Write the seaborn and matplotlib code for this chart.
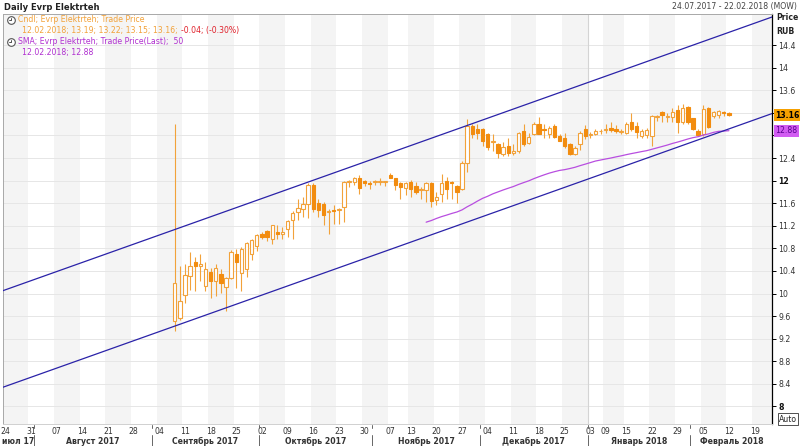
import numpy as np
import pandas as pd
import matplotlib
matplotlib.use('Agg')
import matplotlib.pyplot as plt
import matplotlib.transforms as mtransforms
from matplotlib.lines import Line2D
import seaborn as sns

# daily candles 07.09.2017 - 12.02.2018 (Evrp Elektrteh, RUB)
candle_start = '2017-09-07'
opens = [9.51, 9.57, 9.98, 10.31, 10.55, 10.49, 10.13, 10.39, 10.22, 10.34,
         10.12, 10.28, 10.70, 10.37, 10.43, 10.70, 10.85, 11.06, 11.11, 10.97,
         11.09, 11.05, 11.15, 11.30, 11.45, 11.49, 11.59, 11.92, 11.61, 11.59,
         11.45, 11.47, 11.48, 11.53, 11.97, 11.97, 12.05, 11.99, 11.95, 11.97,
         11.97, 11.97, 12.10, 12.04, 11.95, 11.87, 11.97, 11.91, 11.83, 11.83,
         11.95, 11.65, 11.77, 11.99, 11.98, 11.91, 11.86, 12.31, 12.97, 12.91,
         12.91, 12.82, 12.69, 12.65, 12.47, 12.61, 12.49, 12.52, 12.88, 12.67,
         12.82, 13.01, 12.91, 12.83, 12.97, 12.79, 12.76, 12.65, 12.47, 12.64,
         12.91, 12.81, 12.82, 12.87, 12.90, 12.94, 12.91, 12.86, 12.85, 13.03,
         12.97, 12.79, 12.80, 12.79, 13.13, 13.22, 13.12, 13.13, 13.25, 13.03,
         13.31, 13.10, 12.88, 12.82, 13.29, 13.14, 13.17, 13.22, 13.19]
highs = [13.00, 10.49, 10.52, 10.74, 10.64, 10.70, 10.55, 10.46, 10.52, 10.43,
         10.30, 10.77, 10.79, 10.82, 10.91, 10.97, 11.06, 11.09, 11.13, 11.22,
         11.22, 11.18, 11.31, 11.46, 11.68, 11.71, 11.95, 11.95, 11.68, 11.62,
         11.49, 11.56, 11.51, 12.00, 12.01, 12.07, 12.10, 12.01, 11.99, 12.01,
         12.05, 11.99, 12.13, 12.05, 11.98, 11.98, 12.01, 11.98, 11.89, 11.98,
         11.98, 11.80, 12.11, 12.07, 11.99, 11.92, 12.34, 13.09, 13.00, 13.00,
         12.94, 12.85, 12.82, 12.67, 12.69, 12.75, 12.64, 12.86, 13.00, 12.85,
         13.04, 13.12, 13.00, 12.97, 13.00, 12.83, 12.85, 12.67, 12.61, 12.88,
         12.99, 12.86, 12.91, 12.91, 13.00, 13.03, 12.98, 12.91, 13.03, 13.20,
         13.03, 12.91, 12.94, 13.17, 13.16, 13.23, 13.20, 13.28, 13.34, 13.35,
         13.32, 13.10, 12.91, 13.34, 13.31, 13.23, 13.25, 13.23, 13.22]
lows = [9.33, 9.54, 9.84, 10.07, 10.04, 10.22, 10.04, 9.92, 9.95, 10.01,
        9.69, 10.25, 10.10, 10.04, 10.29, 10.60, 10.76, 10.97, 10.93, 10.88,
        10.97, 10.97, 11.00, 10.97, 11.30, 11.36, 11.33, 11.45, 11.36, 11.21,
        11.06, 11.24, 11.24, 11.27, 11.89, 11.92, 11.77, 11.91, 11.86, 11.92,
        11.92, 11.91, 12.04, 11.83, 11.68, 11.74, 11.71, 11.77, 11.68, 11.62,
        11.53, 11.56, 11.62, 11.68, 11.68, 11.61, 11.83, 12.16, 12.76, 12.73,
        12.61, 12.55, 12.52, 12.40, 12.43, 12.43, 12.46, 12.49, 12.61, 12.64,
        12.80, 12.82, 12.76, 12.76, 12.75, 12.70, 12.58, 12.46, 12.46, 12.55,
        12.73, 12.76, 12.80, 12.83, 12.85, 12.86, 12.85, 12.83, 12.82, 12.88,
        12.76, 12.76, 12.76, 12.61, 13.06, 13.03, 13.03, 13.03, 12.85, 13.00,
        13.00, 12.89, 12.79, 12.79, 12.94, 13.10, 13.10, 13.15, 13.15]
closes = [10.19, 9.87, 10.32, 10.49, 10.49, 10.53, 10.43, 10.22, 10.46, 10.19,
          10.28, 10.73, 10.55, 10.79, 10.89, 10.94, 11.03, 11.01, 11.00, 11.21,
          11.05, 11.09, 11.28, 11.42, 11.51, 11.58, 11.92, 11.49, 11.48, 11.39,
          11.46, 11.46, 11.49, 11.98, 11.99, 12.04, 11.87, 11.95, 11.94, 11.97,
          11.99, 11.97, 12.05, 11.92, 11.89, 11.95, 11.86, 11.79, 11.83, 11.95,
          11.64, 11.71, 11.95, 11.86, 11.95, 11.80, 12.31, 12.97, 12.83, 12.85,
          12.71, 12.59, 12.69, 12.49, 12.59, 12.49, 12.53, 12.85, 12.65, 12.77,
          13.00, 12.83, 12.90, 12.94, 12.77, 12.71, 12.61, 12.47, 12.58, 12.85,
          12.79, 12.82, 12.88, 12.88, 12.91, 12.89, 12.88, 12.86, 13.00, 12.91,
          12.86, 12.88, 12.89, 13.14, 13.13, 13.17, 13.12, 13.22, 13.03, 13.29,
          13.03, 12.91, 12.80, 13.26, 12.95, 13.22, 13.23, 13.20, 13.16]

sma_period = 50
holidays = ['2017-11-06', '2018-01-01', '2018-01-02', '2018-01-08']

# regression channel, values at the left and right edge of the chart
channel_x = [-0.5, 149.5]
channel_upper = [10.05, 14.90]
channel_lower = [8.34, 13.19]

y_ticks = [8.0, 8.4, 8.8, 9.2, 9.6, 10.0, 10.4, 10.8, 11.2, 11.6, 12.0,
           12.4, 12.8, 13.2, 13.6, 14.0, 14.4]
bold_ticks = [8.0, 12.0]
hidden_ticks = [12.8, 13.2]   # covered by the last-value boxes
month_names = ['июл 17', 'Август 2017', 'Сентябрь 2017', 'Октябрь 2017',
               'Ноябрь 2017', 'Декабрь 2017', 'Январь 2018', 'Февраль 2018']

ORANGE = '#f2a23a'
FILL = '#f28c0f'
BLUE = '#2a22a8'
PURPLE = '#b84ee0'

sns.set_theme(style='white')
plt.rcParams['font.family'] = ['DejaVu Sans']

# trading-day axis
dates = pd.bdate_range('2017-07-24', '2018-02-22')
dates = dates[~dates.isin(pd.to_datetime(holidays))]
pos = np.arange(len(dates))
first = dates.get_loc(pd.Timestamp(candle_start))
cx = pos[first:first + len(closes)]

fig = plt.figure(figsize=(8, 4.46), dpi=100)
ax = fig.add_axes([3 / 800, 1 - 424 / 446, 769 / 800, 410 / 446])
ax.set_xlim(-0.46, 149.4)
ax.set_ylim(7.69, 14.95)

# weekly background stripes
iso = dates.isocalendar()
weeks = pd.Series(pos, index=dates).groupby([iso.year.values, iso.week.values])
week_start = [g.iloc[0] for _, g in weeks]
week_end = [g.iloc[-1] for _, g in weeks]
for k, (s, e) in enumerate(zip(week_start, week_end)):
    if k % 2 == 0:
        ax.axvspan(s - 0.5, e + 0.5, color='#f4f4f4', lw=0, zorder=0)

# year separator
jan = dates.get_loc(pd.Timestamp('2018-01-03'))
ax.axvline(jan - 0.5, color='#d4d4d4', lw=0.8, zorder=0.6)

ax.set_yticks(y_ticks)
ax.yaxis.grid(True, color='#e6e6e6', lw=0.7)
ax.set_axisbelow(True)

# candles
o = np.array(opens)
c = np.array(closes)
up = c >= o
lo = np.minimum(o, c)
hgt = np.maximum(np.abs(c - o), 0.015)
ax.vlines(cx, lows, highs, color=ORANGE, lw=0.8, zorder=3)
ax.bar(cx[up], hgt[up], bottom=lo[up], width=0.66, color='white',
       edgecolor=ORANGE, linewidth=0.8, zorder=4)
ax.bar(cx[~up], hgt[~up], bottom=lo[~up], width=0.66, color=FILL,
       edgecolor=FILL, linewidth=0.8, zorder=4)

# SMA 50
sma = pd.Series(closes).rolling(sma_period).mean()
ok = sma.notna().values
sns.lineplot(x=cx[ok], y=sma.values[ok], color=PURPLE, lw=0.9, ax=ax, zorder=5)

# channel
sns.lineplot(x=channel_x, y=channel_upper, color=BLUE, lw=0.9, ax=ax, zorder=6)
sns.lineplot(x=channel_x, y=channel_lower, color=BLUE, lw=0.9, ax=ax, zorder=6)

# axes styling
ax.yaxis.tick_right()
ax.tick_params(axis='y', length=3, width=0.7, color='black', pad=1.5,
               labelsize=5.6, labelcolor='#333333', right=True)
ax.set_yticklabels(['' if v in hidden_ticks else '%g' % v for v in y_ticks])
for lab, v in zip(ax.get_yticklabels(), y_ticks):
    if v in bold_ticks:
        lab.set_fontweight('bold')
        lab.set_color('#111111')

ax.set_xticks(week_start)
ax.set_xticklabels([dates[i].strftime('%d') for i in week_start])
ax.tick_params(axis='x', length=0, pad=2.5, labelsize=5.6, labelcolor='#333333')

for side in ['left', 'top']:
    ax.spines[side].set_color('#a8a8a8')
    ax.spines[side].set_linewidth(0.7)
ax.spines['bottom'].set_color('#d0d0d0')
ax.spines['bottom'].set_linewidth(0.7)
ax.spines['right'].set_color('black')
ax.spines['right'].set_linewidth(0.9)
ax.set_xlabel('')
ax.set_ylabel('')

# month row
blend = mtransforms.blended_transform_factory(ax.transData, fig.transFigure)
months = pd.Series(pos, index=dates).groupby(dates.to_period('M'))
for name, (_, g) in zip(month_names, months):
    ax.text((g.iloc[0] + g.iloc[-1]) / 2, 1 - 441 / 446, name, transform=blend,
            ha='center', va='center', fontsize=5.6, fontweight='bold',
            color='#333333', clip_on=False)
    if g.iloc[0] > 0:
        b = g.iloc[0] - 0.5
        fig.add_artist(Line2D([b, b], [0, 1 - 435 / 446], transform=blend,
                              color='#666666', lw=0.7))
        fig.add_artist(Line2D([b, b], [1 - 425 / 446, 1 - 428 / 446],
                              transform=blend, color='#666666', lw=0.7))

# header texts
fig.text(4 / 800, 1 - 7 / 446, 'Daily Evrp Elektrteh', fontsize=6,
         fontweight='bold', color='#222222', va='center', ha='left')
fig.text(797 / 800, 1 - 6 / 446, '24.07.2017 - 22.02.2018 (MOW)',
         fontsize=5.6, color='#444444', va='center', ha='right')
fig.text(776 / 800, 1 - 18 / 446, 'Price', fontsize=5.6, fontweight='bold',
         color='#222222', va='center', ha='left')
fig.text(776 / 800, 1 - 32 / 446, 'RUB', fontsize=5.6, fontweight='bold',
         color='#222222', va='center', ha='left')

# legend inside the plot
for yy in [20, 42]:
    fy = 1 - yy / 446
    fig.add_artist(Line2D([11 / 800], [fy], marker='o', ms=5.5, mfc='white',
                          mec='#555555', mew=0.8, transform=fig.transFigure))
    fig.add_artist(Line2D([11 / 800, 11 / 800, 9 / 800], [fy + 2.2 / 446, fy, fy],
                          color='#333333', lw=0.6, transform=fig.transFigure))
fig.text(18 / 800, 1 - 20 / 446, 'Cndl; Evrp Elektrteh; Trade Price',
         fontsize=5.6, color=ORANGE, va='center')
t_ohlc = fig.text(22 / 800, 1 - 31 / 446, '12.02.2018; 13.19; 13.22; 13.15; 13.16;',
                  fontsize=5.6, color=ORANGE, va='center')
renderer = fig.canvas.get_renderer()
bb = t_ohlc.get_window_extent(renderer)
fig.text((bb.x1 + 3) / 800, 1 - 31 / 446, '-0.04; (-0.30%)', fontsize=5.6,
         color='#e0202a', va='center')
fig.text(18 / 800, 1 - 42 / 446, 'SMA; Evrp Elektrteh; Trade Price(Last);  50',
         fontsize=5.6, color='#b030d0', va='center')
fig.text(22 / 800, 1 - 53 / 446, '12.02.2018; 12.88', fontsize=5.6,
         color='#b030d0', va='center')

# last value boxes on the price axis
vblend = mtransforms.blended_transform_factory(ax.transAxes, ax.transData)
ax.text(1.004, closes[-1], '%.2f' % closes[-1], transform=vblend, fontsize=5.6,
        fontweight='bold', color='black', va='center', ha='left', clip_on=False,
        bbox=dict(boxstyle='square,pad=0.2', fc='#f5a000', ec='none'), zorder=10)
ax.text(1.004, sma.values[-1], '%.2f' % sma.values[-1], transform=vblend,
        fontsize=5.6, color='#5a0090', va='center', ha='left', clip_on=False,
        bbox=dict(boxstyle='square,pad=0.2', fc='#d25cf2', ec='none'), zorder=10)

fig.text(779 / 800, 1 - 419 / 446, 'Auto', fontsize=5.6, color='#222222',
         va='center', ha='left',
         bbox=dict(boxstyle='square,pad=0.15', fc='white', ec='#333333', lw=0.6))

fig.savefig('out.png', dpi=100)
plt.close(fig)
